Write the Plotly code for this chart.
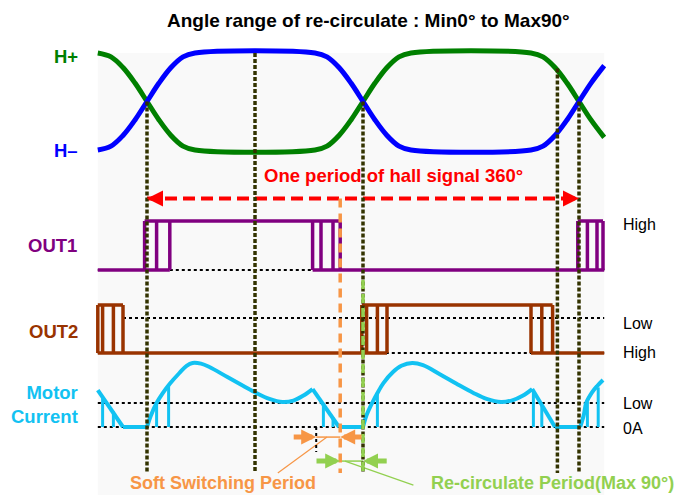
import plotly.graph_objects as go

# the page body keeps an 8px margin, so the figure is drawn 8px in and 8px down
OFF = 8
W, H = 696 - OFF, 495 - OFF
FONT = "Arial, Liberation Sans, sans-serif"

# electrical angle (deg): 0 = first hall crossing, 360 = one hall period
x_start, x_end = -41, 381

# hall sensor signals, 1 = top of swing, 0 = bottom
hall_deg = [-41, -30, -20, -10, 0, 10, 20, 30, 40, 140, 150, 160, 170, 180, 190, 200,
            210, 220, 320, 330, 340, 350, 360, 370, 381]
h_plus = [1.0, 0.96, 0.85, 0.69, 0.5, 0.31, 0.15, 0.04, 0.0, 0.0, 0.04, 0.15, 0.31, 0.5,
          0.69, 0.85, 0.96, 1.0, 1.0, 0.96, 0.85, 0.69, 0.5, 0.31, 0.13]
h_minus = [0.0, 0.04, 0.15, 0.31, 0.5, 0.69, 0.85, 0.96, 1.0, 1.0, 0.96, 0.85, 0.69, 0.5,
           0.31, 0.15, 0.04, 0.0, 0.0, 0.04, 0.15, 0.31, 0.5, 0.69, 0.87]

# OUT1 / OUT2 soft-switching pulses: vertical edges, high spans, low spans
out1_edges = [-2, 8, 19, 138, 145, 155, 161, 359, 367, 375, 380]
out1_high = [[-2, 161], [359, 380]]
out1_low = [[-41, 19], [138, 381]]

out2_edges = [-41, -37, -28, -20, 179, 183, 192, 200, 320, 329, 338]
out2_high = [[-41, -20], [179, 338]]
out2_low = [[-41, 200], [320, 381]]
out2_low_ref = 0.73

# motor current (0 = 0A, 1 = "Low")
cur_deg = [-41, -20, 0, 3, 8, 13, 19, 27, 33, 38, 45, 52, 67, 80, 91, 102, 113, 122, 130,
           138, 160, 180, 183, 188, 193, 197, 205, 212, 221, 230, 244, 258, 272, 283, 295,
           305, 313, 321, 340, 361, 364, 366, 371, 375, 380]
cur_amp = [1.54, 0, 0, 0.45, 1.0, 1.4, 1.8, 2.25, 2.55, 2.67, 2.64, 2.5, 2.08, 1.72, 1.42,
           1.17, 1.04, 1.1, 1.3, 1.58, 0, 0, 0.5, 1.04, 1.5, 1.83, 2.29, 2.55, 2.67, 2.58,
           2.2, 1.8, 1.42, 1.17, 1.04, 1.12, 1.3, 1.58, 0, 0, 0.5, 1.0, 1.45, 1.7, 1.96]
cur_corners = [-20, 0, 138, 160, 180, 321, 340, 361]
cur_tick_deg = [-37, -28, 8, 18, 147, 155, 192, 322, 329, 367, 376]
cur_tick_top = [1.2, 0.65, 1.0, 1.75, 1.0, 0.4, 1.45, 1.5, 0.95, 1.05, 1.65]

# guide lines (angle, hall level where they start)
guide_deg = [0, 90, 180, 342, 360]
guide_top = [0.5, 1.0, 0.5, 0.84, 0.5]

soft_sw = [141, 161]
recirc = [161, 180]

GREEN, BLUE, PURPLE, BROWN = "#008000", "#0000ff", "#800080", "#993300"
CYAN, ORANGE, LGREEN, RED, OLIVE = "#12c2f2", "#f79646", "#92d050", "#ff0000", "#333300"


def lane(px_hi, px_lo, hi=1.0, lo=0.0):
    # y-axis over the full figure height so that hi/lo land on the given pixel rows
    px_hi, px_lo = px_hi - OFF, px_lo - OFF
    s = (px_lo - px_hi) / (hi - lo)
    return dict(range=[lo - (H - px_lo) / s, lo + px_lo / s], domain=[0, 1],
                visible=False, fixedrange=True)


fig = go.Figure()


def add_line(x, y, axis, color, width, dash="solid", shape="linear"):
    fig.add_trace(go.Scatter(x=x, y=y, yaxis=axis, mode="lines", hoverinfo="skip",
                             showlegend=False,
                             line=dict(color=color, width=width, dash=dash, shape=shape)))


def pulse_path(edges, high, low):
    xs, ys = [], []
    for e in edges:
        xs += [e, e, None]
        ys += [0, 1, None]
    for a, b in high:
        xs += [a, b, None]
        ys += [1, 1, None]
    for a, b in low:
        xs += [a, b, None]
        ys += [0, 0, None]
    return xs, ys


DOT = "3px,3px"

# --- motor current (y) ---
for lvl in [1, 0]:
    add_line([x_start, x_end], [lvl, lvl], "y", "black", 2, DOT)
tx, ty = [], []
for d, t in zip(cur_tick_deg, cur_tick_top):
    tx += [d, d, None]
    ty += [0, t, None]
add_line(tx, ty, "y", CYAN, 3)
seg_x, seg_y = [], []
for d, a in zip(cur_deg, cur_amp):
    seg_x.append(d)
    seg_y.append(a)
    if d in cur_corners:
        if len(seg_x) > 1:
            add_line(seg_x, seg_y, "y", CYAN, 4, shape="spline")
        seg_x, seg_y = [d], [a]
add_line(seg_x, seg_y, "y", CYAN, 4, shape="spline")

# bottom period markers
add_line([soft_sw[0], soft_sw[1]], [-0.42, -0.42], "y", ORANGE, 1.5)
add_line([109, 150], [-1.92, -0.42], "y", ORANGE, 1.2)
add_line([recirc[0], recirc[1]], [-1.42, -1.42], "y", LGREEN, 1.5)
add_line([165, 222], [-1.42, -2.42], "y", LGREEN, 1.2)
add_line([soft_sw[0], soft_sw[0]], [0, -1.04], "y", "black", 2, DOT)

# --- OUT2 (y2) ---
add_line([x_start, x_end], [0, 0], "y2", "black", 2, DOT)
add_line([out2_high[0][1], x_end], [out2_low_ref, out2_low_ref], "y2", "black", 2, DOT)
px, py = pulse_path(out2_edges, out2_high, out2_low)
add_line(px, py, "y2", BROWN, 3.5)

# --- OUT1 (y3) ---
add_line([x_start, x_end], [0, 0], "y3", "black", 2, DOT)
px, py = pulse_path(out1_edges, out1_high, out1_low)
add_line(px, py, "y3", PURPLE, 3.5)

# --- hall signals + guides (y4, top layer) ---
add_line(hall_deg, h_plus, "y4", GREEN, 5, shape="spline")
add_line(hall_deg, h_minus, "y4", BLUE, 5, shape="spline")
add_line([0, 360], [-0.5, -0.5], "y4", RED, 4, "12px,6px")
gx, gy = [], []
for d, t in zip(guide_deg, guide_top):
    gx += [d, d, None]
    gy += [t, -3.33, None]
add_line(gx, gy, "y4", OLIVE, 3.5, "4px,2px")
add_line([soft_sw[1], soft_sw[1]], [-0.5, -3.33], "y4", ORANGE, 3.5, "9px,6px")
add_line([recirc[1], recirc[1]], [-1.34, -3.33], "y4", LGREEN, 3.5, "9px,5px")


def arrow(tip, tail, lvl, axis, color, width, size):
    fig.add_annotation(x=tip, y=lvl, ax=tail, ay=lvl, xref="x", yref=axis, axref="x",
                       ayref=axis, text="", showarrow=True, arrowhead=2,
                       arrowsize=size, arrowwidth=width, arrowcolor=color)


arrow(0, 8, -0.5, "y4", RED, 4, 0.8)
arrow(360, 352, -0.5, "y4", RED, 4, 0.8)
arrow(soft_sw[0], soft_sw[0] - 20, -0.42, "y", ORANGE, 5, 0.6)
arrow(soft_sw[1], soft_sw[1] + 19, -0.42, "y", ORANGE, 5, 0.6)
arrow(recirc[0], recirc[0] - 21, -1.42, "y", LGREEN, 5, 0.6)
arrow(recirc[1], recirc[1] + 21, -1.42, "y", LGREEN, 5, 0.6)


def label(text, x_px, y_px, color, size=18.5, bold=True, anchor="center"):
    fig.add_annotation(x=(x_px - OFF) / W, y=1 - (y_px - OFF) / H, xref="paper",
                       yref="paper", text=f"<b>{text}</b>" if bold else text,
                       showarrow=False, xanchor=anchor, yanchor="middle", align="right",
                       font=dict(family=FONT, size=size, color=color))


label("Angle range of re-circulate : Min0° to Max90°", 368, 20, "black", size=19)
label("One period of hall signal 360°", 393, 175, RED)
label("H+", 80, 57, GREEN, anchor="right")
label("H–", 80, 151, BLUE, anchor="right")
label("OUT1", 79, 245, PURPLE, anchor="right")
label("OUT2", 80, 331, BROWN, anchor="right")
label("Motor<br>Current", 80, 404, CYAN, anchor="right")
label("Soft Switching Period", 223, 483, ORANGE, size=18)
label("Re-circulate Period(Max 90°)", 552, 483, LGREEN, size=18)
for txt, ypx in [("High", 224), ("Low", 323), ("High", 352), ("Low", 403), ("0A", 428)]:
    label(txt, 621, ypx, "black", size=16, bold=False, anchor="left")

fig.add_shape(type="rect", xref="x", yref="paper", x0=x_start, x1=x_end, y0=0,
              y1=1 - (53 - OFF) / H, fillcolor="#f9f9f9", line_width=0, layer="below")

fig.update_layout(
    width=W, height=H,
    margin=dict(l=0, r=0, t=0, b=0, pad=0),
    paper_bgcolor="white", plot_bgcolor="white",
    xaxis=dict(range=[-(147 - OFF) / 1.2, (W - 147 + OFF) / 1.2], visible=False,
               fixedrange=True),
    yaxis=lane(403, 427),
    yaxis2=dict(lane(305, 353), overlaying="y"),
    yaxis3=dict(lane(221, 270), overlaying="y"),
    yaxis4=dict(lane(53, 150), overlaying="y"),
    showlegend=False,
)

fig.write_html("out.html")
